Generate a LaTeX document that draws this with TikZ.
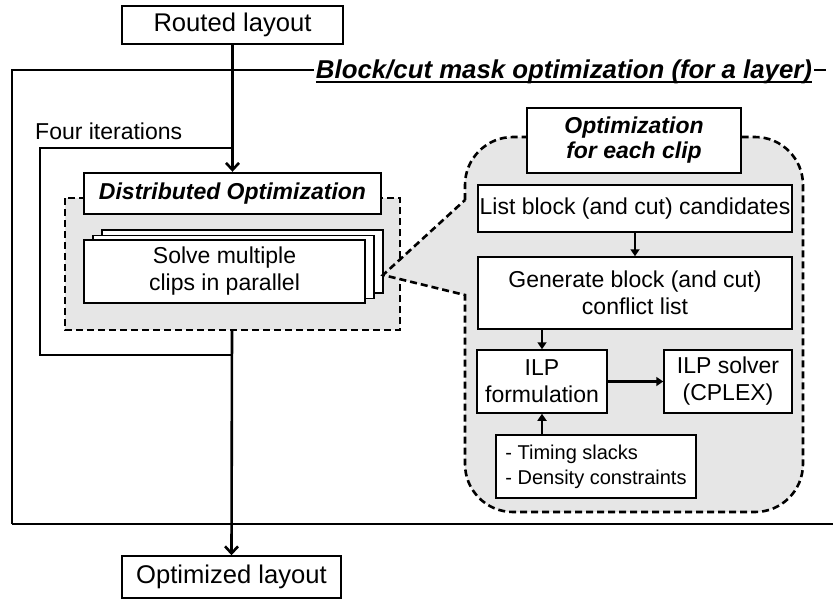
\documentclass[tikz,border=0pt]{standalone}
\usepackage{fontspec}
\setmainfont{Liberation Sans}
\usetikzlibrary{arrows.meta}
\definecolor{panel}{HTML}{E6E6E6}
\begin{document}
\begin{tikzpicture}[x=1pt,y=-1pt,
  box/.style={draw, line width=1.5pt, fill=white, inner sep=0pt, align=center,
    font=\fontsize{23}{27}\selectfont},
  bigbox/.style={box, font=\fontsize{25.6}{29}\selectfont},
  headbox/.style={box, line width=2.4pt, font=\fontsize{23}{25}\selectfont\bfseries\itshape},
  dashline/.style={line width=2.6pt, dash pattern=on 7pt off 4pt},
  flow/.style={line width=2.6pt},
  bigarrow/.style={flow, -{Straight Barb[length=7pt,width=13pt,line width=2.6pt]}},
  smallarrow/.style={line width=2.4pt, -{Triangle[length=7pt,width=9pt]}},
  frame/.style={line width=2pt}]
\useasboundingbox (0,0) rectangle (833,600);

% outer frame of the per-layer optimization
\draw[frame] (12,524) -- (12,70) -- (826,70);
\draw[frame] (12,524) -- (833,524);
\node[fill=white, inner sep=2pt, font=\fontsize{25.8}{28}\selectfont\bfseries\itshape]
  (frametitle) at (564,72) {Block/cut mask optimization (for a layer)};
\draw[line width=2pt] ([shift={(2pt,-3.5pt)}]frametitle.base west) -- ([shift={(-2pt,-3.5pt)}]frametitle.base east);

% input and output
\node[bigbox, minimum width=221pt, minimum height=38pt] (routed) at (232.5,25) {Routed layout};
\node[bigbox, minimum width=219pt, minimum height=42pt] (optimized) at (231.5,577) {Optimized layout};

% distributed optimization panel
\draw[dashline, fill=panel] (65,198) rectangle (400,330);
\coordinate (distbot) at (232,330);
\node[box, minimum width=281pt, minimum height=63pt] (p3) at (242.5,261.5) {};
\node[box, minimum width=281pt, minimum height=63pt] (p2) at (233.5,267) {};
\node[box, minimum width=281pt, minimum height=63pt] (p1) at (224.5,271.5) {Solve multiple\\clips in parallel};
\node[headbox, minimum width=297pt, minimum height=41pt] (dist) at (232.5,193.5) {Distributed Optimization};

% iteration loop
\coordinate (looptop) at (232,148);
\coordinate (loopbot) at (232,355);
\draw[flow] (looptop) -- (40,148) -- (40,355) -- (loopbot);
\node[anchor=west, inner sep=0pt, font=\fontsize{23}{26}\selectfont] (iter) at (35,131) {Four iterations};

\draw[bigarrow] (routed.south) -- (dist.north);
\draw[bigarrow] (distbot) -- (optimized.north);

% callout with the per-clip flow
\draw[dashline, fill=panel]
  (465,200) -- (465,185) .. controls (465,158.5) and (486.5,137) .. (513,137)
  -- (755,137) .. controls (781.5,137) and (803,158.5) .. (803,185)
  -- (803,464) .. controls (803,490.5) and (781.5,512) .. (755,512)
  -- (513,512) .. controls (486.5,512) and (465,490.5) .. (465,464)
  -- (465,295) -- (383,275) -- cycle;

\node[headbox, minimum width=214pt, minimum height=65pt] (clip) at (634,140.5) {Optimization\\for each clip};
\node[box, minimum width=314pt, minimum height=47pt] (list) at (635,208.5) {List block (and cut) candidates};
\node[box, minimum width=314pt, minimum height=72pt] (gen) at (635,293) {Generate block (and cut)\\conflict list};
\node[box, minimum width=130pt, minimum height=63pt] (ilp) at (542,381.5) {ILP\\formulation};
\node[box, minimum width=128pt, minimum height=63pt] (solver) at (728,381.5) {ILP solver\\(CPLEX)};
\node[box, minimum width=200pt, minimum height=63pt, align=left,
  font=\fontsize{20}{25}\selectfont] (timing) at (596,466.5) {- Timing slacks\\- Density constraints};

\draw[smallarrow] (list.south) -- (gen.north);
\draw[smallarrow] (gen.south -| ilp.north) -- (ilp.north);
\draw[smallarrow] (ilp.east) -- (solver.west);
\draw[smallarrow] (timing.north -| ilp.south) -- (ilp.south);
\end{tikzpicture}
\end{document}
